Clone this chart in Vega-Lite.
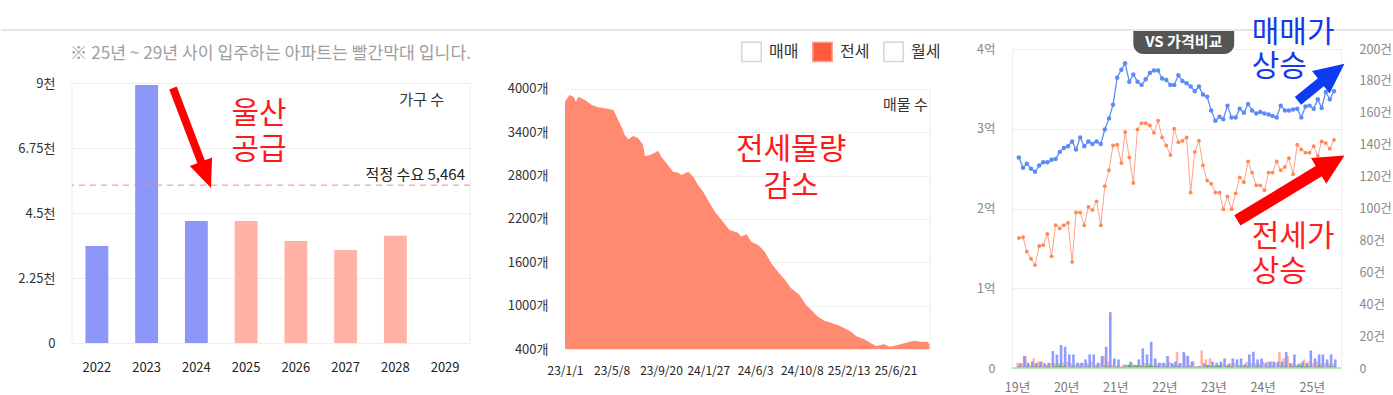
{
  "$schema": "https://vega.github.io/schema/vega-lite/v6.json",
  "padding": 0,
  "background": "#ffffff",
  "config": {
    "font": "Noto Sans CJK KR",
    "view": {"stroke": "#eeeeee"},
    "axis": {"domain": false, "ticks": false, "gridColor": "#eeeeee", "labelFont": "Noto Sans CJK KR", "labelFlush": false},
    "legend": {"labelFont": "Noto Sans CJK KR"},
    "text": {"font": "Noto Sans CJK KR"}
  },
  "bounds": "flush",
  "spacing": 19,
  "vconcat": [
    {
      "width": 1393, "height": 30,
      "view": {"stroke": null},
      "data": {"values": [{}]},
      "mark": {"type": "rule", "color": "#cccccc", "strokeWidth": 1},
      "encoding": {"y": {"datum": 0, "type": "quantitative", "scale": {"domain": [0, 1]}, "axis": null}}
    },
    {
      "bounds": "flush",
      "spacing": 0,
      "resolve": {"scale": {"color": "independent", "fill": "independent", "stroke": "independent"}},
      "hconcat": [
        {"width": 71, "height": 1, "view": {"stroke": null}, "data": {"values": []}, "mark": "point"},
        {
          "width": 398, "height": 294,
          "view": {"stroke": null},
          "resolve": {"scale": {"x": "independent"}},
          "layer": [
            {
              "data": {"values": [
                {"year": "2022", "n": 3358, "phase": "입주"},
                {"year": "2023", "n": 8931, "phase": "입주"},
                {"year": "2024", "n": 4223, "phase": "입주"},
                {"year": "2025", "n": 4223, "phase": "예정"},
                {"year": "2026", "n": 3531, "phase": "예정"},
                {"year": "2027", "n": 3219, "phase": "예정"},
                {"year": "2028", "n": 3715, "phase": "예정"}
              ]},
              "mark": {"type": "bar"},
              "encoding": {
                "x": {"field": "year", "type": "nominal",
                  "scale": {"domain": ["2022","2023","2024","2025","2026","2027","2028","2029"], "paddingInner": 0.54, "paddingOuter": 0.27},
                  "axis": {"title": null, "labelAngle": 0, "labelPadding": 18, "labelFontSize": 13, "labelColor": "#222222", "grid": false, "labelOverlap": false}},
                "y": {"field": "n", "type": "quantitative",
                  "scale": {"domain": [0, 10177], "nice": false},
                  "axis": {"title": null, "values": [0, 2250, 4500, 6750, 9000], "labelExpr": "datum.value == 0 ? '0' : (datum.value / 1000) + '천'", "labelPadding": 17, "labelFontSize": 13, "labelColor": "#333333", "grid": true, "labelOverlap": false}},
                "color": {"field": "phase", "type": "nominal", "scale": {"domain": ["입주", "예정"], "range": ["#8c97f8", "#ffb3a5"]}, "legend": null}
              }
            },
            {
              "data": {"values": [{}]},
              "mark": {"type": "rule", "color": "#eeeeee"},
              "encoding": {"x": {"datum": 0, "type": "quantitative", "scale": {"domain": [0, 8]}, "axis": null}, "y": {"datum": 0, "type": "quantitative"}, "y2": {"datum": 9000}}
            },
            {
              "data": {"values": [{}]},
              "mark": {"type": "rule", "color": "#eeeeee"},
              "encoding": {"x": {"datum": 8, "type": "quantitative", "scale": {"domain": [0, 8]}, "axis": null}, "y": {"datum": 0, "type": "quantitative"}, "y2": {"datum": 9000}}
            },
            {
              "data": {"values": [{}]},
              "mark": {"type": "rule", "color": "#f28b8b", "strokeDash": [6, 5], "strokeWidth": 1},
              "encoding": {"y": {"datum": 5464, "type": "quantitative"}}
            },
            {
              "data": {"values": [{}]},
              "mark": {"type": "rule", "color": "#ff0000", "strokeWidth": 8},
              "encoding": {"x": {"datum": 2.03, "type": "quantitative", "scale": {"domain": [0, 8]}, "axis": null}, "x2": {"datum": 2.609}, "y": {"datum": 8827, "type": "quantitative"}, "y2": {"datum": 6207}}
            },
            {
              "data": {"values": [{}]},
              "mark": {"type": "point", "shape": "M-0.85,-1L0.85,-1L0,1Z", "filled": true, "color": "#ff0000", "opacity": 1, "size": 784, "angle": 339, "strokeWidth": 0},
              "encoding": {"x": {"datum": 2.693, "type": "quantitative", "scale": {"domain": [0, 8]}, "axis": null}, "y": {"datum": 5819, "type": "quantitative"}}
            },
            {
              "data": {"values": [{}]},
              "mark": {"type": "text", "text": "※ 25년 ~ 29년 사이 입주하는 아파트는 빨간막대 입니다.", "align": "right", "baseline": "top", "fontSize": 17.2, "color": "#9e9e9e"},
              "encoding": {"x": {"datum": 8.02, "type": "quantitative", "scale": {"domain": [0, 8]}, "axis": null}, "y": {"datum": 10315, "type": "quantitative"}}
            },
            {
              "data": {"values": [{}]},
              "mark": {"type": "text", "text": "가구 수", "align": "right", "baseline": "top", "fontSize": 15, "color": "#333333"},
              "encoding": {"x": {"datum": 7.48, "type": "quantitative", "scale": {"domain": [0, 8]}, "axis": null}, "y": {"datum": 8654, "type": "quantitative"}}
            },
            {
              "data": {"values": [{}]},
              "mark": {"type": "text", "text": "적정 수요 5,464", "align": "right", "baseline": "top", "fontSize": 15, "color": "#222222"},
              "encoding": {"x": {"datum": 7.9, "type": "quantitative", "scale": {"domain": [0, 8]}, "axis": null}, "y": {"datum": 6058, "type": "quantitative"}}
            },
            {
              "data": {"values": [{}]},
              "mark": {"type": "text", "text": "울산", "align": "center", "baseline": "top", "fontSize": 30, "color": "#ff1a1a"},
              "encoding": {"x": {"datum": 3.76, "type": "quantitative", "scale": {"domain": [0, 8]}, "axis": null}, "y": {"datum": 8446, "type": "quantitative"}}
            },
            {
              "data": {"values": [{}]},
              "mark": {"type": "text", "text": "공급", "align": "center", "baseline": "top", "fontSize": 30, "color": "#ff1a1a"},
              "encoding": {"x": {"datum": 3.76, "type": "quantitative", "scale": {"domain": [0, 8]}, "axis": null}, "y": {"datum": 7200, "type": "quantitative"}}
            }
          ]
        },
        {"width": 95, "height": 1, "view": {"stroke": null}, "data": {"values": []}, "mark": "point"},
        {
          "width": 365, "height": 300,
          "view": {"stroke": null},
          "layer": [
            {
              "data": {"values": [{"kind": "매매"}, {"kind": "전세"}, {"kind": "월세"}]},
              "mark": {"type": "point", "shape": "square", "filled": true, "opacity": 1, "strokeWidth": 1.5},
              "encoding": {
                "x": {"datum": {"year": 2023, "month": 3, "date": 1}, "type": "temporal"},
                "y": {"datum": 800, "type": "quantitative"},
                "fill": {"field": "kind", "type": "nominal", "scale": {"domain": ["매매", "전세", "월세"], "range": ["#ffffff", "#ff5c3d", "#ffffff"]},
                  "legend": {"title": null, "orient": "none", "legendX": 176, "legendY": -8, "direction": "horizontal", "symbolType": "square", "symbolSize": 380, "symbolStrokeWidth": 1.5, "labelFontSize": 16, "labelColor": "#333333", "labelOffset": 7, "columnPadding": 10, "padding": 0, "symbolOpacity": 1}},
                "stroke": {"field": "kind", "type": "nominal", "scale": {"domain": ["매매", "전세", "월세"], "range": ["#d3d6de", "#ffa090", "#d3d6de"]},
                  "legend": {"title": null, "orient": "none", "legendX": 176, "legendY": -8, "direction": "horizontal", "symbolType": "square", "symbolSize": 380, "symbolStrokeWidth": 1.5, "labelFontSize": 16, "labelColor": "#333333", "labelOffset": 7, "columnPadding": 10, "padding": 0, "symbolOpacity": 1}}
              }
            },
            {
              "data": {"values": [
                {"d": "2023-01-01", "n": 3824}, {"d": "2023-01-13", "n": 3917}, {"d": "2023-01-24", "n": 3894}, {"d": "2023-01-31", "n": 3824},
                {"d": "2023-02-06", "n": 3894}, {"d": "2023-02-25", "n": 3848}, {"d": "2023-03-15", "n": 3778}, {"d": "2023-04-02", "n": 3746},
                {"d": "2023-04-20", "n": 3733}, {"d": "2023-05-13", "n": 3709}, {"d": "2023-05-22", "n": 3617}, {"d": "2023-06-04", "n": 3478},
                {"d": "2023-06-13", "n": 3363}, {"d": "2023-06-23", "n": 3303}, {"d": "2023-07-06", "n": 3349}, {"d": "2023-07-20", "n": 3317},
                {"d": "2023-08-02", "n": 3225}, {"d": "2023-08-07", "n": 3072}, {"d": "2023-08-21", "n": 3086}, {"d": "2023-09-03", "n": 3118},
                {"d": "2023-09-12", "n": 3146}, {"d": "2023-09-21", "n": 3063}, {"d": "2023-10-05", "n": 2971}, {"d": "2023-10-23", "n": 2855},
                {"d": "2023-11-06", "n": 2841}, {"d": "2023-11-15", "n": 2809}, {"d": "2023-12-03", "n": 2855}, {"d": "2023-12-17", "n": 2786},
                {"d": "2023-12-30", "n": 2671}, {"d": "2024-01-13", "n": 2578}, {"d": "2024-01-26", "n": 2463}, {"d": "2024-02-14", "n": 2301},
                {"d": "2024-03-03", "n": 2186}, {"d": "2024-03-25", "n": 2048}, {"d": "2024-04-17", "n": 2011}, {"d": "2024-04-26", "n": 1955},
                {"d": "2024-05-10", "n": 1992}, {"d": "2024-05-23", "n": 1886}, {"d": "2024-06-11", "n": 1840}, {"d": "2024-06-29", "n": 1747},
                {"d": "2024-07-17", "n": 1586}, {"d": "2024-08-04", "n": 1471}, {"d": "2024-08-22", "n": 1365}, {"d": "2024-09-09", "n": 1240},
                {"d": "2024-10-02", "n": 1148}, {"d": "2024-10-20", "n": 1009}, {"d": "2024-11-03", "n": 940}, {"d": "2024-11-21", "n": 847},
                {"d": "2024-12-09", "n": 792}, {"d": "2024-12-27", "n": 764}, {"d": "2025-01-14", "n": 732}, {"d": "2025-02-02", "n": 686},
                {"d": "2025-02-20", "n": 640}, {"d": "2025-03-05", "n": 580}, {"d": "2025-03-28", "n": 534}, {"d": "2025-04-15", "n": 478},
                {"d": "2025-04-29", "n": 442}, {"d": "2025-05-21", "n": 465}, {"d": "2025-06-04", "n": 432}, {"d": "2025-06-27", "n": 455},
                {"d": "2025-07-19", "n": 488}, {"d": "2025-08-11", "n": 515}, {"d": "2025-08-29", "n": 500}, {"d": "2025-09-16", "n": 500},
                {"d": "2025-09-23", "n": 455}
              ]},
              "mark": {"type": "area", "color": "#ff8a70", "opacity": 1},
              "encoding": {
                "x": {"field": "d", "type": "temporal",
                  "scale": {"domain": [{"year": 2023, "month": 1, "date": 1}, {"year": 2025, "month": 9, "date": 23}]},
                  "axis": {"title": null, "values": [
                    {"year": 2023, "month": 1, "date": 1}, {"year": 2023, "month": 5, "date": 8}, {"year": 2023, "month": 9, "date": 20},
                    {"year": 2024, "month": 1, "date": 27}, {"year": 2024, "month": 6, "date": 3}, {"year": 2024, "month": 10, "date": 8},
                    {"year": 2025, "month": 2, "date": 13}, {"year": 2025, "month": 6, "date": 21}],
                    "format": "%y/%-m/%-d", "labelPadding": 16, "labelFontSize": 12, "labelColor": "#222222", "grid": false, "labelOverlap": false}},
                "y": {"field": "n", "type": "quantitative",
                  "scale": {"domain": [400, 4553.8], "nice": false, "zero": false},
                  "axis": {"title": null, "values": [400, 1000, 1600, 2200, 2800, 3400, 4000], "labelExpr": "datum.value + '개'", "labelPadding": 17, "labelFontSize": 13, "labelColor": "#333333", "grid": true, "labelOverlap": false}},
                "y2": {"datum": 400}
              }
            },
            {
              "data": {"values": [{}]},
              "mark": {"type": "rule", "color": "#eeeeee"},
              "encoding": {"x": {"datum": {"year": 2025, "month": 9, "date": 23}, "type": "temporal"}, "y": {"datum": 400, "type": "quantitative"}, "y2": {"datum": 4000}}
            },
            {
              "data": {"values": [{}]},
              "mark": {"type": "text", "text": "매물 수", "align": "right", "baseline": "top", "fontSize": 15, "color": "#333333"},
              "encoding": {"x": {"datum": {"year": 2025, "month": 9, "date": 17}, "type": "temporal"}, "y": {"datum": 3875, "type": "quantitative"}}
            },
            {
              "data": {"values": [{}]},
              "mark": {"type": "text", "text": "전세물량", "align": "center", "baseline": "top", "fontSize": 30, "color": "#ff1a1a"},
              "encoding": {"x": {"datum": {"year": 2024, "month": 9, "date": 9}, "type": "temporal"}, "y": {"datum": 3363, "type": "quantitative"}}
            },
            {
              "data": {"values": [{}]},
              "mark": {"type": "text", "text": "감소", "align": "center", "baseline": "top", "fontSize": 30, "color": "#ff1a1a"},
              "encoding": {"x": {"datum": {"year": 2024, "month": 9, "date": 9}, "type": "temporal"}, "y": {"datum": 2850, "type": "quantitative"}}
            }
          ]
        },
        {"width": 82, "height": 1, "view": {"stroke": null}, "data": {"values": []}, "mark": "point"},
        {
          "width": 329, "height": 319,
          "data": {"values": [
            {"m": "2019-01-15", "s": 2.64, "j": 1.63, "ns": 3, "nj": 3.5, "nw": 1},
            {"m": "2019-02-15", "s": 2.51, "j": 1.64, "ns": 7.5, "nj": 3, "nw": 0.5},
            {"m": "2019-03-15", "s": 2.56, "j": 1.46, "ns": 3.3, "nj": 7.5, "nw": 1},
            {"m": "2019-04-15", "s": 2.50, "j": 1.37, "ns": 4, "nj": 2, "nw": 0.5},
            {"m": "2019-05-15", "s": 2.46, "j": 1.29, "ns": 3, "nj": 6, "nw": 1},
            {"m": "2019-06-15", "s": 2.54, "j": 1.53, "ns": 4, "nj": 4, "nw": 1},
            {"m": "2019-07-15", "s": 2.58, "j": 1.54, "ns": 3, "nj": 4, "nw": 0.5},
            {"m": "2019-08-15", "s": 2.58, "j": 1.68, "ns": 3.3, "nj": 2, "nw": 1},
            {"m": "2019-09-15", "s": 2.61, "j": 1.40, "ns": 10.6, "nj": 3, "nw": 0.5},
            {"m": "2019-10-15", "s": 2.62, "j": 1.79, "ns": 8.5, "nj": 3, "nw": 1},
            {"m": "2019-11-15", "s": 2.71, "j": 1.75, "ns": 14.4, "nj": 3, "nw": 1.5},
            {"m": "2019-12-15", "s": 2.76, "j": 1.79, "ns": 13.3, "nj": 3.3, "nw": 1},
            {"m": "2020-01-15", "s": 2.78, "j": 1.82, "ns": 8.5, "nj": 4, "nw": 0.5},
            {"m": "2020-02-15", "s": 2.84, "j": 1.33, "ns": 8.5, "nj": 3, "nw": 1},
            {"m": "2020-03-15", "s": 2.74, "j": 1.95, "ns": 3.3, "nj": 2, "nw": 0.5},
            {"m": "2020-04-15", "s": 2.89, "j": 1.95, "ns": 3.3, "nj": 3, "nw": 1},
            {"m": "2020-05-15", "s": 2.78, "j": 1.79, "ns": 5.4, "nj": 3, "nw": 0.5},
            {"m": "2020-06-15", "s": 2.84, "j": 2.02, "ns": 8.5, "nj": 3, "nw": 1},
            {"m": "2020-07-15", "s": 2.81, "j": 1.98, "ns": 8.5, "nj": 4, "nw": 0.5},
            {"m": "2020-08-15", "s": 2.84, "j": 2.09, "ns": 3.3, "nj": 2, "nw": 1},
            {"m": "2020-09-15", "s": 2.81, "j": 1.79, "ns": 7.5, "nj": 3, "nw": 0.5},
            {"m": "2020-10-15", "s": 2.99, "j": 2.28, "ns": 13.3, "nj": 7.5, "nw": 1},
            {"m": "2020-11-15", "s": 3.13, "j": 2.48, "ns": 35, "nj": 4, "nw": 1},
            {"m": "2020-12-15", "s": 3.30, "j": 2.79, "ns": 6, "nj": 2, "nw": 0.5},
            {"m": "2021-01-15", "s": 3.64, "j": 2.80, "ns": 5.4, "nj": 1, "nw": 1},
            {"m": "2021-02-15", "s": 3.74, "j": 2.57, "ns": 1, "nj": 1, "nw": 0.5},
            {"m": "2021-03-15", "s": 3.82, "j": 2.96, "ns": 2, "nj": 2.5, "nw": 1},
            {"m": "2021-04-15", "s": 3.59, "j": 2.64, "ns": 4, "nj": 1, "nw": 2},
            {"m": "2021-05-15", "s": 3.68, "j": 2.32, "ns": 2, "nj": 3, "nw": 1},
            {"m": "2021-06-15", "s": 3.59, "j": 2.99, "ns": 5.4, "nj": 2, "nw": 1.5},
            {"m": "2021-07-15", "s": 3.55, "j": 3.07, "ns": 12.3, "nj": 2, "nw": 1},
            {"m": "2021-08-15", "s": 3.62, "j": 3.07, "ns": 8.5, "nj": 3, "nw": 1},
            {"m": "2021-09-15", "s": 3.70, "j": 3.04, "ns": 16.5, "nj": 3, "nw": 1.5},
            {"m": "2021-10-15", "s": 3.73, "j": 2.95, "ns": 6, "nj": 2, "nw": 1},
            {"m": "2021-11-15", "s": 3.73, "j": 3.10, "ns": 3.3, "nj": 3, "nw": 1},
            {"m": "2021-12-15", "s": 3.63, "j": 2.89, "ns": 3.3, "nj": 3, "nw": 0.5},
            {"m": "2022-01-15", "s": 3.61, "j": 2.79, "ns": 7.5, "nj": 3, "nw": 1},
            {"m": "2022-02-15", "s": 3.55, "j": 2.67, "ns": 3, "nj": 4, "nw": 0.5},
            {"m": "2022-03-15", "s": 3.55, "j": 3.00, "ns": 4, "nj": 3, "nw": 1},
            {"m": "2022-04-15", "s": 3.67, "j": 2.83, "ns": 3, "nj": 10.2, "nw": 1},
            {"m": "2022-05-15", "s": 3.60, "j": 2.85, "ns": 10, "nj": 3, "nw": 0.5},
            {"m": "2022-06-15", "s": 3.57, "j": 2.89, "ns": 7.5, "nj": 8.5, "nw": 1},
            {"m": "2022-07-15", "s": 3.53, "j": 2.20, "ns": 4, "nj": 2, "nw": 1},
            {"m": "2022-08-15", "s": 3.47, "j": 2.71, "ns": 1, "nj": 4, "nw": 0.5},
            {"m": "2022-09-15", "s": 3.53, "j": 2.85, "ns": 1, "nj": 1, "nw": 1},
            {"m": "2022-10-15", "s": 3.43, "j": 2.54, "ns": 3, "nj": 11, "nw": 0.5},
            {"m": "2022-11-15", "s": 3.40, "j": 2.35, "ns": 2, "nj": 5.4, "nw": 1.5},
            {"m": "2022-12-15", "s": 3.23, "j": 2.31, "ns": 4, "nj": 6, "nw": 1},
            {"m": "2023-01-15", "s": 3.10, "j": 2.20, "ns": 3.3, "nj": 2, "nw": 1},
            {"m": "2023-02-15", "s": 3.15, "j": 2.20, "ns": 4, "nj": 2, "nw": 1.5},
            {"m": "2023-03-15", "s": 3.12, "j": 1.99, "ns": 6, "nj": 3, "nw": 0.5},
            {"m": "2023-04-15", "s": 3.29, "j": 2.15, "ns": 2.5, "nj": 2, "nw": 1},
            {"m": "2023-05-15", "s": 3.14, "j": 1.99, "ns": 6, "nj": 3, "nw": 1},
            {"m": "2023-06-15", "s": 3.14, "j": 2.19, "ns": 5.4, "nj": 3, "nw": 0.5},
            {"m": "2023-07-15", "s": 3.25, "j": 2.39, "ns": 6, "nj": 2, "nw": 1},
            {"m": "2023-08-15", "s": 3.20, "j": 2.33, "ns": 2.5, "nj": 2, "nw": 1},
            {"m": "2023-09-15", "s": 3.31, "j": 2.59, "ns": 8.5, "nj": 4, "nw": 1},
            {"m": "2023-10-15", "s": 3.23, "j": 2.45, "ns": 10.2, "nj": 3, "nw": 0.5},
            {"m": "2023-11-15", "s": 3.19, "j": 2.29, "ns": 5.4, "nj": 3, "nw": 1},
            {"m": "2023-12-15", "s": 3.21, "j": 2.29, "ns": 6, "nj": 3, "nw": 1},
            {"m": "2024-01-15", "s": 3.19, "j": 2.23, "ns": 3, "nj": 4, "nw": 0.5},
            {"m": "2024-02-15", "s": 3.18, "j": 2.45, "ns": 4, "nj": 4, "nw": 1},
            {"m": "2024-03-15", "s": 3.16, "j": 2.45, "ns": 4, "nj": 4, "nw": 1},
            {"m": "2024-04-15", "s": 3.14, "j": 2.59, "ns": 4, "nj": 3, "nw": 0.5},
            {"m": "2024-05-15", "s": 3.29, "j": 2.48, "ns": 4, "nj": 10, "nw": 1},
            {"m": "2024-06-15", "s": 3.23, "j": 2.52, "ns": 10, "nj": 6, "nw": 1},
            {"m": "2024-07-15", "s": 3.23, "j": 2.63, "ns": 3, "nj": 7.5, "nw": 0.5},
            {"m": "2024-08-15", "s": 3.24, "j": 2.43, "ns": 8.5, "nj": 3, "nw": 1},
            {"m": "2024-09-15", "s": 3.25, "j": 2.80, "ns": 2.5, "nj": 2, "nw": 1},
            {"m": "2024-10-15", "s": 3.14, "j": 2.74, "ns": 4, "nj": 3, "nw": 1.5},
            {"m": "2024-11-15", "s": 3.28, "j": 2.70, "ns": 3, "nj": 5.4, "nw": 1},
            {"m": "2024-12-15", "s": 3.29, "j": 2.70, "ns": 11, "nj": 4, "nw": 1},
            {"m": "2025-01-15", "s": 3.25, "j": 2.78, "ns": 6, "nj": 3, "nw": 0.5},
            {"m": "2025-02-15", "s": 3.37, "j": 2.66, "ns": 8.5, "nj": 4, "nw": 1},
            {"m": "2025-03-15", "s": 3.26, "j": 2.84, "ns": 8.5, "nj": 3, "nw": 1},
            {"m": "2025-04-15", "s": 3.46, "j": 2.82, "ns": 5.4, "nj": 3, "nw": 0.5},
            {"m": "2025-05-15", "s": 3.37, "j": 2.75, "ns": 8.5, "nj": 3, "nw": 1},
            {"m": "2025-06-15", "s": 3.47, "j": 2.86, "ns": 5.4, "nj": 2.5, "nw": 1}
          ]},
          "resolve": {"scale": {"y": "independent"}},
          "layer": [
            {
              "layer": [
                {
                  "mark": {"type": "bar", "color": "#ffa99c", "opacity": 0.85, "width": 2.6, "xOffset": -1.3},
                  "encoding": {
                    "x": {"field": "m", "type": "temporal",
                      "scale": {"domain": [{"year": 2019, "month": 1, "date": 1}, {"year": 2025, "month": 6, "date": 30}]},
                      "axis": {"title": null, "values": [
                        {"year": 2019, "month": 1, "date": 1}, {"year": 2020, "month": 1, "date": 1}, {"year": 2021, "month": 1, "date": 1},
                        {"year": 2022, "month": 1, "date": 1}, {"year": 2023, "month": 1, "date": 1}, {"year": 2024, "month": 1, "date": 1},
                        {"year": 2025, "month": 1, "date": 1}],
                        "labelExpr": "timeFormat(datum.value, '%y') + '년'", "labelPadding": 13, "labelFontSize": 12.5, "labelColor": "#777777", "grid": false, "labelOverlap": false}},
                    "y": {"field": "nj", "type": "quantitative",
                      "scale": {"domain": [0, 200], "nice": false},
                      "axis": {"orient": "right", "title": null, "values": [0, 20, 40, 60, 80, 100, 120, 140, 160, 180, 200], "labelExpr": "datum.value == 0 ? '0' : datum.value + '건'", "labelPadding": 18, "labelFontSize": 12.5, "labelColor": "#888888", "grid": false, "labelOverlap": false}}
                  }
                },
                {
                  "mark": {"type": "bar", "color": "#7d8bff", "opacity": 0.85, "width": 2.6, "xOffset": 1.3},
                  "encoding": {"x": {"field": "m", "type": "temporal"},
                    "y": {"field": "ns", "type": "quantitative",
                      "axis": {"orient": "right", "title": null, "values": [0, 20, 40, 60, 80, 100, 120, 140, 160, 180, 200], "labelExpr": "datum.value == 0 ? '0' : datum.value + '건'", "labelPadding": 18, "labelFontSize": 12.5, "labelColor": "#888888", "grid": false, "labelOverlap": false}}}
                },
                {
                  "mark": {"type": "bar", "color": "#3cb043", "opacity": 0.9, "width": 2.6},
                  "encoding": {"x": {"field": "m", "type": "temporal"},
                    "y": {"field": "nw", "type": "quantitative",
                      "axis": {"orient": "right", "title": null, "values": [0, 20, 40, 60, 80, 100, 120, 140, 160, 180, 200], "labelExpr": "datum.value == 0 ? '0' : datum.value + '건'", "labelPadding": 18, "labelFontSize": 12.5, "labelColor": "#888888", "grid": false, "labelOverlap": false}}}
                },
                {
                  "data": {"values": [{}]},
                  "mark": {"type": "rule", "color": "#a6e6a0", "strokeWidth": 1.5},
                  "encoding": {"y": {"datum": 0, "type": "quantitative",
                      "axis": {"orient": "right", "title": null, "values": [0, 20, 40, 60, 80, 100, 120, 140, 160, 180, 200], "labelExpr": "datum.value == 0 ? '0' : datum.value + '건'", "labelPadding": 18, "labelFontSize": 12.5, "labelColor": "#888888", "grid": false, "labelOverlap": false}}}
                }
              ]
            },
            {
              "layer": [
                {
                  "mark": {"type": "line", "color": "#5b8cf6", "strokeWidth": 1.3},
                  "encoding": {
                    "x": {"field": "m", "type": "temporal"},
                    "y": {"field": "s", "type": "quantitative",
                      "scale": {"domain": [0, 4], "nice": false},
                      "axis": {"orient": "left", "title": null, "values": [0, 1, 2, 3, 4], "labelExpr": "datum.value == 0 ? '0' : datum.value + '억'", "labelPadding": 17, "labelFontSize": 12.5, "labelColor": "#888888", "grid": true, "labelOverlap": false}}
                  }
                },
                {
                  "mark": {"type": "point", "filled": true, "color": "#5b8cf6", "size": 20, "opacity": 1},
                  "encoding": {"x": {"field": "m", "type": "temporal"}, "y": {"field": "s", "type": "quantitative"}}
                },
                {
                  "mark": {"type": "line", "color": "#ffa18a", "strokeWidth": 1},
                  "encoding": {"x": {"field": "m", "type": "temporal"}, "y": {"field": "j", "type": "quantitative"}}
                },
                {
                  "mark": {"type": "point", "filled": true, "color": "#ff8a56", "size": 15, "opacity": 1},
                  "encoding": {"x": {"field": "m", "type": "temporal"}, "y": {"field": "j", "type": "quantitative"}}
                },
                {
                  "data": {"values": [{}]},
                  "mark": {"type": "rect", "color": "#555555", "cornerRadiusBottomLeft": 10, "cornerRadiusBottomRight": 10},
                  "encoding": {"x": {"datum": {"year": 2021, "month": 5, "date": 15}, "type": "temporal"}, "x2": {"datum": {"year": 2023, "month": 6, "date": 4}}, "y": {"datum": 4.225, "type": "quantitative"}, "y2": {"datum": 3.9375}}
                },
                {
                  "data": {"values": [{}]},
                  "mark": {"type": "text", "text": "VS 가격비교", "color": "#ffffff", "fontSize": 15, "fontWeight": "bold", "align": "center", "baseline": "middle"},
                  "encoding": {"x": {"datum": {"year": 2022, "month": 5, "date": 25}, "type": "temporal"}, "y": {"datum": 4.09, "type": "quantitative"}}
                },
                {
                  "data": {"values": [{}]},
                  "mark": {"type": "rule", "color": "#0d3bf2", "strokeWidth": 10},
                  "encoding": {"x": {"datum": {"year": 2024, "month": 9, "date": 20}, "type": "temporal"}, "x2": {"datum": {"year": 2025, "month": 4, "date": 9}}, "y": {"datum": 3.35, "type": "quantitative"}, "y2": {"datum": 3.624}}
                },
                {
                  "data": {"values": [{}]},
                  "mark": {"type": "point", "shape": "M-0.95,-1L0.95,-1L0,1Z", "filled": true, "color": "#0d3bf2", "opacity": 1, "size": 900, "angle": 232, "strokeWidth": 0},
                  "encoding": {"x": {"datum": {"year": 2025, "month": 6, "date": 5}, "type": "temporal"}, "y": {"datum": 3.70, "type": "quantitative"}}
                },
                {
                  "data": {"values": [{}]},
                  "mark": {"type": "rule", "color": "#ff0000", "strokeWidth": 12},
                  "encoding": {"x": {"datum": {"year": 2023, "month": 6, "date": 28}, "type": "temporal"}, "x2": {"datum": {"year": 2025, "month": 3, "date": 27}}, "y": {"datum": 1.85, "type": "quantitative"}, "y2": {"datum": 2.504}}
                },
                {
                  "data": {"values": [{}]},
                  "mark": {"type": "point", "shape": "M-1,-1L1,-1L0,1Z", "filled": true, "color": "#ff0000", "opacity": 1, "size": 900, "angle": 239.4, "strokeWidth": 0},
                  "encoding": {"x": {"datum": {"year": 2025, "month": 5, "date": 28}, "type": "temporal"}, "y": {"datum": 2.5675, "type": "quantitative"}}
                },
                {
                  "data": {"values": [{}]},
                  "mark": {"type": "text", "text": "매매가", "align": "left", "baseline": "top", "fontSize": 30, "color": "#1238f0"},
                  "encoding": {"x": {"datum": {"year": 2023, "month": 10, "date": 12}, "type": "temporal"}, "y": {"datum": 4.3875, "type": "quantitative"}}
                },
                {
                  "data": {"values": [{}]},
                  "mark": {"type": "text", "text": "상승", "align": "left", "baseline": "top", "fontSize": 30, "color": "#1238f0"},
                  "encoding": {"x": {"datum": {"year": 2023, "month": 10, "date": 12}, "type": "temporal"}, "y": {"datum": 3.96, "type": "quantitative"}}
                },
                {
                  "data": {"values": [{}]},
                  "mark": {"type": "text", "text": "전세가", "align": "left", "baseline": "top", "fontSize": 30, "color": "#ff1f1f"},
                  "encoding": {"x": {"datum": {"year": 2023, "month": 10, "date": 12}, "type": "temporal"}, "y": {"datum": 1.825, "type": "quantitative"}}
                },
                {
                  "data": {"values": [{}]},
                  "mark": {"type": "text", "text": "상승", "align": "left", "baseline": "top", "fontSize": 30, "color": "#ff1f1f"},
                  "encoding": {"x": {"datum": {"year": 2023, "month": 10, "date": 12}, "type": "temporal"}, "y": {"datum": 1.3975, "type": "quantitative"}}
                }
              ]
            }
          ]
        }
      ]
    }
  ]
}
